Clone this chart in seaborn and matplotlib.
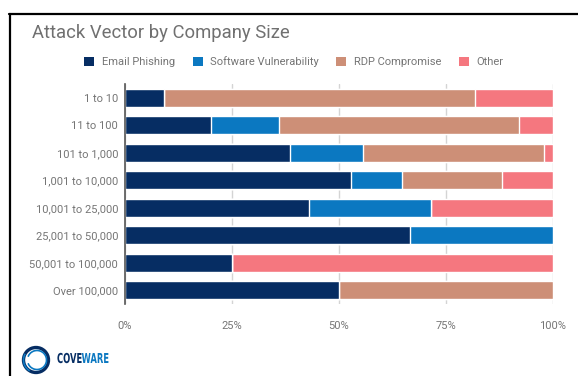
import matplotlib
matplotlib.use("Agg")
import matplotlib.pyplot as plt
from matplotlib.lines import Line2D
from matplotlib.patches import Patch, Arc, PathPatch
from matplotlib.textpath import TextPath
from matplotlib.font_manager import FontProperties
from matplotlib.transforms import Affine2D
import numpy as np
import pandas as pd
import seaborn as sns

# Share of ransomware attack vectors (percent) per company size band
sizes = ["1 to 10", "11 to 100", "101 to 1,000", "1,001 to 10,000",
         "10,001 to 25,000", "25,001 to 50,000", "50,001 to 100,000",
         "Over 100,000"]
email_phishing = [9.1, 20.0, 38.6, 52.9, 42.9, 66.7, 25.0, 50.0]
software_vuln = [0.0, 16.0, 17.1, 11.8, 28.6, 33.3, 0.0, 0.0]
rdp_compromise = [72.7, 56.0, 42.2, 23.5, 0.0, 0.0, 0.0, 50.0]
other = [18.2, 8.0, 2.1, 11.8, 28.5, 0.0, 75.0, 0.0]

series_names = ["Email Phishing", "Software Vulnerability", "RDP Compromise", "Other"]
colors = ["#062d63", "#0b78c1", "#cd8f77", "#f5777f"]
x_ticks = [0, 25, 50, 75, 100]
x_tick_labels = ["0%", "25%", "50%", "75%", "100%"]

df = pd.DataFrame({"size": sizes,
                   "Email Phishing": email_phishing,
                   "Software Vulnerability": software_vuln,
                   "RDP Compromise": rdp_compromise,
                   "Other": other})
cum = df[series_names].cumsum(axis=1)
cum["size"] = sizes

sns.set_theme(style="white")
plt.rcParams["font.family"] = ["Roboto", "DejaVu Sans"]

W, H = 578, 376
fig = plt.figure(figsize=(W / 100, H / 100), dpi=100)
fig.patch.set_facecolor("white")

ax = fig.add_axes([125 / W, 1 - 304 / H, (553 - 125) / W, (304 - 84) / H])

# Stacked bars: draw cumulative totals from the outermost segment inward
for name, col in reversed(list(zip(series_names, colors))):
    sns.barplot(data=cum, x=name, y="size", order=sizes, color=col,
                orient="h", width=0.65, saturation=1, ax=ax, zorder=3)

ax.set_xlim(0, 100)
ax.set_ylim(len(sizes) - 0.5, -0.5)
ax.set_xticks(x_ticks)
ax.set_xticklabels(x_tick_labels)
ax.set_xlabel("")
ax.set_ylabel("")
ax.grid(axis="x", color="#d4d4d4", linewidth=1, zorder=0)
ax.grid(axis="y", visible=False)
for s in ["top", "right", "bottom"]:
    ax.spines[s].set_visible(False)
ax.spines["left"].set_color("#555555")
ax.spines["left"].set_linewidth(1.2)
ax.spines["left"].set_zorder(4)
ax.tick_params(axis="both", length=0, colors="#757575", labelsize=8)
ax.tick_params(axis="y", pad=5)
ax.tick_params(axis="x", pad=12)
for lbl in ax.get_xticklabels() + ax.get_yticklabels():
    lbl.set_color("#757575")

# Title
fig.text(32 / W, 1 - 33 / H, "Attack Vector by Company Size", fontsize=13.3,
         color="#707070", ha="left", va="center")

# Legend
handles = [Patch(facecolor=c, edgecolor="none", label=n)
           for n, c in zip(series_names, colors)]
leg = fig.legend(handles=handles, loc="center", ncol=4,
                 bbox_to_anchor=(294 / W, 1 - 62 / H), frameon=False,
                 fontsize=8, handlelength=0.9, handleheight=0.9,
                 handletextpad=0.7, columnspacing=1.55)
for t in leg.get_texts():
    t.set_color("#757575")

# Frame lines along the top and left edges
fig.add_artist(Line2D([9.5 / W, 9.5 / W], [0, 1 - 14 / H],
                      color="black", linewidth=1.6, transform=fig.transFigure))
fig.add_artist(Line2D([9 / W, 1], [1 - 14 / H, 1 - 14 / H],
                      color="black", linewidth=1.6, transform=fig.transFigure))

# Company logo drawn in a pixel-scaled overlay axes (y measured from the top)
lax = fig.add_axes([0, 0, 1, 1])
lax.set_xlim(0, W)
lax.set_ylim(H, 0)
lax.axis("off")
lax.patch.set_alpha(0)
cx, cy = 36, 360
lax.add_patch(Arc((cx, cy), 25, 25, theta1=0, theta2=360,
                  color="#062d63", linewidth=2.4))
lax.add_patch(Arc((cx + 1, cy), 19, 19, theta1=200, theta2=520,
                  color="#0b78c1", linewidth=1.2))
lax.add_patch(Arc((cx, cy), 25, 25, theta1=120, theta2=210,
                  color="#0b78c1", linewidth=1.2))

fp = FontProperties(family="DejaVu Sans", weight="bold")
x0 = 57
for word, col in [("COVE", "#062d63"), ("WARE", "#0b78c1")]:
    tp = TextPath((0, 0), word, size=13.7, prop=fp)
    w = tp.get_extents().x1
    tr = Affine2D().scale(0.61, -1).translate(x0, 363)
    lax.add_patch(PathPatch(tr.transform_path(tp), facecolor=col,
                            edgecolor="none"))
    x0 += w * 0.61

fig.savefig("out.png", dpi=100, facecolor="white")
